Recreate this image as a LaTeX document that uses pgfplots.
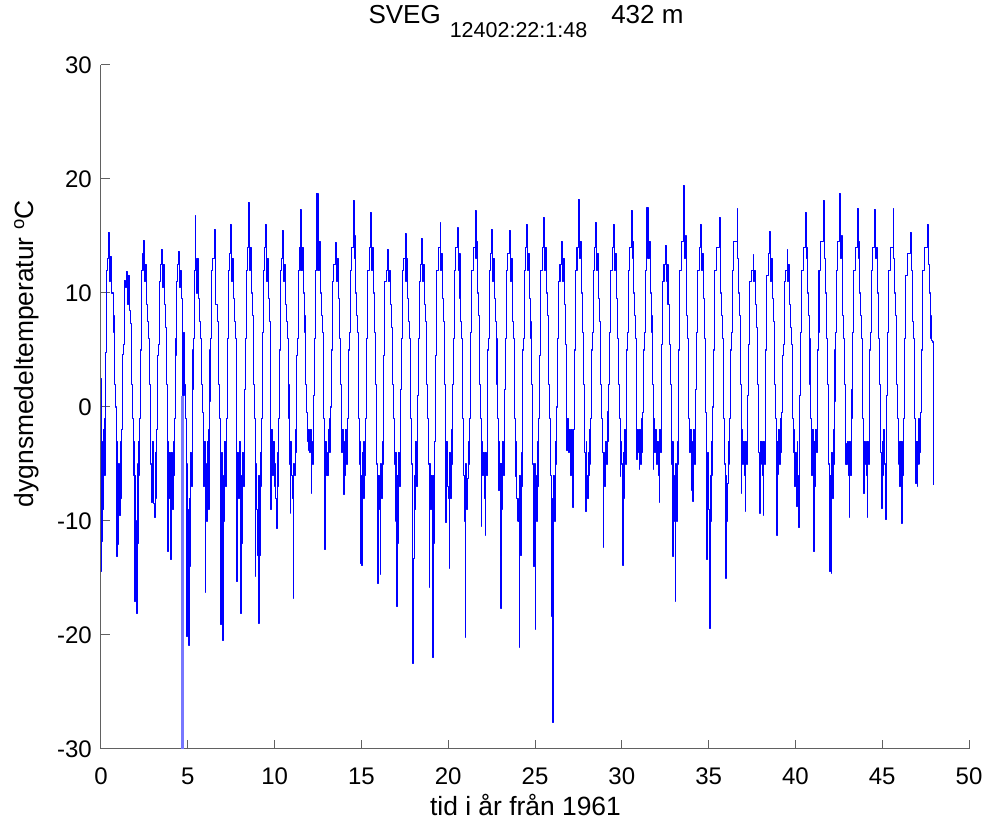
\documentclass[border=0pt]{standalone}
\usepackage{pgfplots}
\pgfplotsset{compat=1.18}
\usepackage{fontspec}
\setmainfont{Liberation Sans}
\definecolor{axgray}{gray}{0.38}
\definecolor{lightbar}{rgb}{0.47,0.47,1}
\begin{document}
\begin{tikzpicture}
\useasboundingbox (-101pt,-71pt) rectangle (886pt,749pt);
\begin{axis}[
  at={(0pt,0pt)}, anchor=south west,
  width=868pt, height=684pt, scale only axis,
  xmin=0, xmax=50, ymin=-30, ymax=30,
  axis x line*=bottom, axis y line*=left,
  axis line style={-, axgray, line width=1pt},
  xtick={0,5,...,50}, ytick={-30,-20,...,30},
  xticklabels={0,5,10,15,20,25,30,35,40,45,50},
  yticklabels={-30,-20,-10,0,10,20,30},
  tick align=inside, major tick length=8.7pt,
  tick style={axgray, line width=1pt},
  minor tick num=0,
  tick label style={font=\fontsize{24}{28}\selectfont, text=black},
  yticklabel style={anchor=east, inner sep=0pt, xshift=-9pt},
  xticklabel style={anchor=north, inner sep=0pt, yshift=-19pt},
  xlabel={tid i år från 1961},
  ylabel={dygnsmedeltemperatur \textsuperscript{o}C},
  label style={font=\fontsize{26.4}{30}\selectfont},
  xlabel style={at={(axis description cs:0.489,-0.0965)}, anchor=base, inner sep=0pt},
  ylabel style={at={(axis description cs:-0.0783,0.578)}, anchor=base, rotate=0, inner sep=0pt},
  title={SVEG\hspace{9pt}\raisebox{-14pt}{\fontsize{21.5}{24}\selectfont 12402:22:1:48}\hspace{24pt}432 m},
  title style={at={(axis description cs:0.308,1.0512)}, anchor=base west, inner sep=0pt, font=\fontsize{26}{30}\selectfont},
]
\addplot[lightbar, line width=3pt, forget plot] coordinates {(4.71,1) (4.71,-99)};
\addplot[blue, line width=1.05pt, line join=round, mark=none, const plot] coordinates {
(0.00,-14.4) (0.02,2.5) (0.04,-11.8) (0.07,-3) (0.10,-9) (0.14,-2) (0.19,-6) (0.23,-1) (0.26,1.5) (0.28,4.8) (0.31,5.8) (0.34,12) (0.40,13) (0.42,15.3) (0.50,11) (0.56,13.2) (0.63,10) (0.70,8) (0.75,6.5) (0.79,2) (0.83,0) (0.87,-5) (0.90,-13.1) (0.93,-3) (0.96,-8)
(1.00,-12.1) (1.03,-5) (1.07,-9.5) (1.11,-3) (1.15,-8) (1.20,-2) (1.24,0) (1.26,4.6) (1.30,5.5) (1.34,11.1) (1.40,10.5) (1.45,11.9) (1.50,9) (1.56,11.5) (1.63,8.5) (1.70,7.3) (1.75,6) (1.78,2) (1.82,-1) (1.86,-6) (1.90,-3) (1.93,-17.1) (1.96,-6)
(2.00,-10) (2.06,-18.1) (2.09,-5) (2.12,-12) (2.16,-3) (2.20,-6) (2.24,-1) (2.27,1.5) (2.29,5) (2.32,6) (2.36,12) (2.42,13.5) (2.47,14.6) (2.52,11) (2.58,12.5) (2.64,9) (2.70,7.5) (2.75,6) (2.79,2) (2.83,-0.5) (2.87,-5) (2.92,-8.4) (2.96,-3)
(3.00,-6) (3.05,-8.5) (3.10,-9.7) (3.13,-4) (3.17,-8) (3.21,-2) (3.25,0) (3.28,4.5) (3.31,5.5) (3.35,11) (3.42,12.5) (3.47,13.8) (3.52,10.5) (3.58,12.5) (3.64,9) (3.70,7) (3.75,6) (3.79,2) (3.84,-12.7) (3.87,-3) (3.91,-8) (3.96,-4)
(4.00,-8) (4.03,-13.4) (4.07,-4) (4.11,-9) (4.15,-3) (4.20,-6) (4.24,-1) (4.27,1.5) (4.29,4.5) (4.32,6) (4.36,11) (4.42,12.5) (4.46,13.6) (4.52,10.5) (4.58,12) (4.64,9.5) (4.67,1) (4.75,1) (4.78,6.5) (4.82,2) (4.86,-1) (4.90,-7) (4.94,-20.1) (4.97,-5)
(5.00,-9) (5.04,-16.6) (5.07,-20.9) (5.10,-8) (5.14,-14) (5.18,-4) (5.22,-7) (5.25,-1) (5.28,1.5) (5.30,5) (5.33,6) (5.37,12) (5.42,16.8) (5.47,13) (5.52,10) (5.58,13) (5.64,9.5) (5.70,7.5) (5.75,6) (5.79,2) (5.83,-0.5) (5.88,-5) (5.93,-7) (5.97,-3)
(6.00,-16.3) (6.04,-5) (6.08,-10) (6.12,-3) (6.17,-9) (6.22,-2) (6.26,0.5) (6.28,5) (6.31,6) (6.35,12) (6.42,13) (6.53,15.6) (6.57,12) (6.62,9) (6.70,7.5) (6.75,6) (6.79,2) (6.83,-1) (6.87,-6) (6.90,-19.1) (6.94,-7) (6.97,-4)
(7.01,-20.5) (7.04,-6) (7.08,-10) (7.12,-3) (7.17,-7) (7.22,-1) (7.26,1) (7.28,4.5) (7.31,6) (7.35,12) (7.42,13.5) (7.47,16.0) (7.52,11) (7.58,13) (7.64,9.5) (7.70,7.5) (7.75,6) (7.79,1.5) (7.82,-15.3) (7.86,-4) (7.91,-8) (7.96,-3)
(8.01,-11) (8.05,-18.1) (8.08,-6) (8.12,-12) (8.16,-4) (8.21,-7) (8.25,-1) (8.28,1.5) (8.30,5) (8.33,6) (8.37,12) (8.43,14) (8.49,17.9) (8.54,12) (8.60,14) (8.66,10) (8.72,8) (8.76,6) (8.80,2) (8.84,-1) (8.88,-14.9) (8.92,-5) (8.96,-9)
(9.01,-13) (9.07,-19.0) (9.10,-6) (9.14,-13) (9.18,-4) (9.22,-7) (9.26,-1) (9.28,1.5) (9.30,5) (9.33,6.5) (9.37,12) (9.42,14) (9.45,16.0) (9.52,11) (9.58,13) (9.64,9.5) (9.70,7.5) (9.75,6) (9.78,-9) (9.82,-2) (9.87,-6) (9.93,-3) (9.97,-7)
(10.02,-5) (10.07,-8) (10.12,-10.7) (10.15,-4) (10.19,-7) (10.23,-1) (10.27,1.5) (10.29,5) (10.32,6) (10.36,12) (10.42,13) (10.47,15.5) (10.52,11) (10.58,12.5) (10.64,9) (10.70,7.5) (10.75,6) (10.79,2) (10.83,-1) (10.87,-5) (10.90,-9.3) (10.94,-3) (10.97,-6)
(11.01,-8) (11.08,-16.8) (11.11,-5) (11.15,-6) (11.19,-2) (11.23,-4) (11.26,0.5) (11.28,4.5) (11.31,6) (11.35,12) (11.42,14) (11.47,17.3) (11.52,12) (11.58,14) (11.64,10) (11.70,8) (11.75,6.5) (11.79,2) (11.83,-0.5) (11.88,-3) (11.95,-3.8) (11.98,-2)
(12.02,-4) (12.06,-2) (12.10,-7.6) (12.14,-3) (12.18,-5) (12.22,-1) (12.26,1) (12.28,5) (12.31,6) (12.35,12) (12.40,14) (12.43,18.7) (12.50,12) (12.56,14.5) (12.63,10) (12.70,8) (12.75,6.5) (12.79,2) (12.83,-1) (12.87,-5) (12.90,-12.5) (12.94,-3) (12.97,-6)
(13.02,-4) (13.06,-6) (13.10,-2) (13.14,-4) (13.19,-1) (13.23,0) (13.26,2) (13.28,5) (13.31,6) (13.35,11) (13.42,12.5) (13.49,14.4) (13.54,11) (13.60,13) (13.66,9.5) (13.72,7.5) (13.76,6) (13.80,2) (13.84,-1) (13.88,-4) (13.92,-2) (13.97,-7.7)
(14.01,-3) (14.05,-6) (14.09,-2) (14.13,-5) (14.18,-1) (14.23,0.5) (14.26,2) (14.28,5) (14.31,6.5) (14.35,12) (14.42,14) (14.54,18.1) (14.58,13) (14.63,15) (14.68,10) (14.73,8) (14.77,6.5) (14.81,2) (14.85,-1) (14.89,-5) (14.93,-3) (14.97,-13.7)
(15.00,-6) (15.03,-13.9) (15.07,-4) (15.11,-8) (15.15,-3) (15.20,-6) (15.24,-1) (15.27,1.5) (15.29,5) (15.32,6) (15.36,12) (15.44,14) (15.54,17.1) (15.58,12) (15.63,14) (15.68,10) (15.73,8) (15.77,6.5) (15.81,2) (15.85,-1) (15.89,-5) (15.95,-15.5) (15.98,-6)
(16.02,-9) (16.08,-14.7) (16.11,-5) (16.15,-8) (16.19,-3) (16.23,-5) (16.26,0) (16.28,4.5) (16.31,5.5) (16.35,11) (16.42,12) (16.50,13.8) (16.55,11) (16.61,12) (16.67,9) (16.73,7) (16.77,5.5) (16.81,2) (16.85,-1) (16.89,-5) (16.94,-10) (16.97,-4)
(17.04,-17.5) (17.07,-6) (17.11,-12) (17.15,-4) (17.20,-7) (17.24,-1) (17.27,1.5) (17.29,5) (17.32,6) (17.36,12) (17.44,13) (17.52,15.2) (17.57,11) (17.62,13) (17.68,9.5) (17.73,7.5) (17.77,6) (17.81,2) (17.85,-1) (17.89,-5) (17.93,-8) (17.96,-22.5)
(18.00,-13.3) (18.04,-6) (18.08,-9) (18.12,-3) (18.17,-7) (18.21,-1) (18.25,1) (18.27,4.5) (18.30,6) (18.34,11) (18.40,12.5) (18.44,14.8) (18.50,11) (18.56,12.5) (18.62,9) (18.68,7.5) (18.73,6) (18.77,2) (18.81,-1) (18.85,-5) (18.90,-15.8) (18.94,-5) (18.97,-9)
(19.02,-6) (19.07,-14) (19.12,-22.0) (19.15,-6) (19.19,-12) (19.23,-3) (19.26,0) (19.28,4.5) (19.31,6) (19.35,12) (19.44,14) (19.54,16.2) (19.58,12) (19.63,13.5) (19.68,9.5) (19.73,7.5) (19.77,6) (19.81,2) (19.84,-1) (19.87,-10.1) (19.91,-3) (19.96,-7)
(20.02,-8) (20.06,-14.2) (20.09,-4) (20.13,-8) (20.17,-2) (20.21,-5) (20.25,0) (20.27,2) (20.29,5) (20.32,6) (20.36,12) (20.44,14) (20.54,15.7) (20.58,12) (20.63,13.5) (20.68,9.5) (20.73,7.5) (20.77,6) (20.81,2) (20.85,-1) (20.90,-6) (20.94,-10) (20.98,-20.2)
(21.02,-5) (21.06,-9) (21.11,-6.3) (21.15,-3) (21.19,-5) (21.23,-1) (21.26,1.5) (21.28,5) (21.31,6.5) (21.35,12) (21.44,14) (21.56,17.2) (21.60,13) (21.65,14.5) (21.70,10) (21.75,8) (21.79,6) (21.83,2) (21.86,-1) (21.90,-10.5) (21.94,-3) (21.97,-6)
(22.02,-4) (22.07,-8) (22.13,-11.3) (22.16,-4) (22.20,-6) (22.24,-1) (22.27,1.5) (22.29,5) (22.32,6) (22.36,12) (22.44,13.5) (22.52,15.6) (22.57,11) (22.62,13) (22.68,9.5) (22.73,7.5) (22.77,6) (22.81,2) (22.85,-1) (22.90,-7.3) (22.94,-3) (22.97,-5)
(23.04,-17.7) (23.07,-5) (23.11,-9) (23.15,-3) (23.19,-6) (23.23,-1) (23.26,1.5) (23.28,5) (23.31,6) (23.35,12) (23.44,13.5) (23.52,15.5) (23.57,11) (23.62,13) (23.68,9.5) (23.73,7.5) (23.77,6) (23.81,2) (23.84,-1) (23.86,-6.1) (23.91,-3) (23.96,-8)
(24.02,-10) (24.09,-21.1) (24.12,-6) (24.16,-13) (24.20,-4) (24.23,-7) (24.26,-1) (24.28,1.5) (24.30,5) (24.33,6) (24.37,12) (24.45,14) (24.53,16.0) (24.58,12) (24.63,13.5) (24.68,9.5) (24.73,7.5) (24.77,6) (24.81,2) (24.85,-1) (24.88,-5) (24.92,-14.0) (24.96,-5)
(25.01,-19.5) (25.04,-6) (25.08,-10) (25.12,-3) (25.17,-7) (25.21,-1) (25.25,1) (25.27,4.5) (25.30,6) (25.34,12) (25.42,14) (25.49,16.6) (25.55,12) (25.60,14) (25.66,10) (25.72,8) (25.76,6) (25.80,2) (25.84,-1) (25.88,-6) (25.94,-18.4) (25.97,-8)
(26.00,-12) (26.03,-27.7) (26.05,-15.9) (26.09,-6) (26.13,-10) (26.17,-3) (26.21,-5) (26.25,0) (26.27,2) (26.29,5) (26.32,6) (26.36,11) (26.44,12.5) (26.55,14.5) (26.60,11) (26.65,13) (26.70,9) (26.74,7) (26.78,5.5) (26.81,2) (26.84,-3.8) (26.88,-1) (26.93,-4) (26.97,-2)
(27.02,-4) (27.06,-6) (27.10,-2) (27.15,-5) (27.19,-8.8) (27.22,-2) (27.26,1) (27.28,5) (27.31,6.5) (27.35,12) (27.42,14) (27.51,18.2) (27.56,13) (27.61,14.5) (27.67,10) (27.72,8) (27.76,6.5) (27.80,2) (27.84,-1) (27.87,-4) (27.90,-9.2) (27.94,-3) (27.97,-6)
(28.02,-8) (28.06,-4) (28.10,-6) (28.14,-2) (28.18,-5) (28.22,-1) (28.26,1.5) (28.28,5) (28.31,6.5) (28.35,12) (28.42,14) (28.47,16.2) (28.53,12) (28.59,13.5) (28.65,9.5) (28.71,7.5) (28.75,6) (28.79,2) (28.83,-1) (28.87,-4) (28.92,-12.3) (28.96,-4)
(29.02,-7) (29.06,-3) (29.10,-5) (29.15,-0.4) (29.19,-3) (29.23,0) (29.26,2) (29.28,5) (29.31,6.5) (29.35,12) (29.44,14) (29.53,16.0) (29.58,12) (29.63,13.5) (29.68,9.5) (29.73,7.5) (29.77,6) (29.81,2) (29.85,-1) (29.90,-6.1) (29.94,-3) (29.97,-5)
(30.02,-6) (30.07,-13.9) (30.10,-4) (30.14,-8) (30.18,-2) (30.22,-5) (30.25,0) (30.27,2) (30.29,5) (30.32,6.5) (30.36,12) (30.45,14) (30.55,17.2) (30.59,13) (30.64,14.5) (30.69,10) (30.74,8) (30.78,6) (30.82,2) (30.85,-1) (30.87,-4.6) (30.92,-2) (30.96,-4)
(31.00,-5.5) (31.04,-2) (31.08,-5) (31.12,-1) (31.16,-4) (31.21,-0.5) (31.25,1.5) (31.27,5) (31.30,6.5) (31.34,12) (31.40,14.5) (31.45,17.5) (31.51,13) (31.57,14.5) (31.63,10) (31.69,8) (31.74,6.5) (31.78,2) (31.80,-5.5) (31.84,-1) (31.89,-4) (31.95,-2)
(32.02,-5) (32.06,-3) (32.10,-6) (32.16,-8.4) (32.19,-2) (32.23,-4) (32.26,0.5) (32.28,4.5) (32.31,5.5) (32.35,11) (32.43,12.5) (32.50,14.2) (32.55,11) (32.60,12.5) (32.66,9) (32.72,7) (32.76,5.5) (32.80,2) (32.84,-1) (32.88,-5) (32.91,-3) (32.95,-13.1)
(33.00,-6) (33.04,-10) (33.08,-17.1) (33.11,-5) (33.15,-10) (33.19,-3) (33.23,-5) (33.26,0.5) (33.28,5) (33.31,6.5) (33.35,12) (33.45,14.5) (33.56,19.4) (33.60,13) (33.65,15) (33.70,10) (33.75,8) (33.79,6) (33.83,2) (33.86,-1) (33.90,-4) (33.94,-2) (33.99,-7.3)
(34.03,-3) (34.06,-6) (34.10,-8.3) (34.14,-2) (34.18,-5) (34.23,-1) (34.26,1.5) (34.28,5) (34.31,6.5) (34.35,12) (34.45,14) (34.56,16.0) (34.60,12) (34.65,13.5) (34.70,9.5) (34.75,7.5) (34.79,6) (34.83,-0.5) (34.87,-13.4) (34.91,-4) (34.95,-8) (34.98,-4)
(35.02,-9) (35.06,-19.4) (35.09,-6) (35.13,-10) (35.17,-3) (35.21,-6) (35.25,0) (35.27,2) (35.29,5) (35.32,6.5) (35.36,12) (35.46,14) (35.62,16.6) (35.66,12) (35.71,10) (35.76,8) (35.80,6) (35.84,2) (35.87,-1) (35.91,-5) (35.97,-15.0)
(36.01,-6) (36.05,-10) (36.10,-6.7) (36.14,-3) (36.18,-5) (36.22,-1) (36.26,1.5) (36.28,5) (36.31,6.5) (36.35,12) (36.45,14.5) (36.64,17.4) (36.68,13) (36.72,10) (36.77,8) (36.81,6) (36.84,2) (36.87,-7.6) (36.91,-2) (36.95,-5)
(37.02,-3) (37.06,-6) (37.12,-9.2) (37.15,-3) (37.19,-5) (37.23,-1) (37.26,1) (37.28,4.5) (37.31,5.5) (37.35,11) (37.45,12) (37.56,13.4) (37.60,11) (37.65,12) (37.70,9) (37.75,7) (37.79,5.5) (37.83,2) (37.87,-1) (37.90,-4) (37.94,-9.3) (37.97,-3)
(38.02,-5) (38.07,-3) (38.10,-6) (38.14,-9.5) (38.18,-3) (38.22,-5) (38.25,0) (38.27,2) (38.29,5) (38.32,6.5) (38.36,11.5) (38.44,13.5) (38.50,15.4) (38.55,11) (38.61,13) (38.67,9.5) (38.73,7.5) (38.77,6) (38.81,2) (38.85,-1) (38.89,-4) (38.94,-11.3) (38.97,-3)
(39.00,-5.9) (39.04,-2) (39.08,-5) (39.12,-1) (39.17,-4) (39.22,-0.5) (39.26,1.5) (39.28,4.5) (39.31,5.5) (39.35,11) (39.44,12) (39.52,13.8) (39.57,11) (39.62,12.5) (39.68,9) (39.73,7) (39.77,5.5) (39.81,2) (39.85,-1) (39.89,-4) (39.94,-2) (39.97,-7)
(40.02,-4) (40.06,-8.7) (40.10,-3) (40.14,-6) (40.19,-10.6) (40.22,-2) (40.26,1) (40.28,5) (40.31,6.5) (40.35,12) (40.46,14) (40.58,17.1) (40.62,13) (40.67,14) (40.72,10) (40.76,8) (40.80,6) (40.84,2) (40.87,-1) (40.91,-4) (40.95,-6) (40.98,-2)
(41.02,-5) (41.06,-12.7) (41.09,-3) (41.13,-7) (41.17,-2) (41.21,-4) (41.25,0.5) (41.27,2) (41.29,5) (41.32,6.5) (41.36,12) (41.47,14.5) (41.63,18.1) (41.67,13) (41.72,10) (41.77,8) (41.81,6) (41.85,2) (41.88,-1) (41.92,-5) (41.98,-14.4)
(42.02,-6) (42.07,-14.6) (42.10,-4) (42.14,-8) (42.18,-2) (42.22,-5) (42.26,0.5) (42.28,5) (42.31,6.5) (42.35,12) (42.45,14.5) (42.54,18.7) (42.59,13) (42.64,15) (42.69,10) (42.74,8) (42.78,6) (42.82,2) (42.86,-1) (42.90,-5) (42.94,-3.2) (42.97,-5)
(43.02,-3) (43.06,-6) (43.11,-9.7) (43.14,-3) (43.18,-6) (43.22,-1) (43.26,1.5) (43.28,5) (43.31,6.5) (43.35,12) (43.45,14) (43.56,17.4) (43.61,13) (43.66,14.5) (43.71,10) (43.76,8) (43.80,6) (43.84,2) (43.87,-1) (43.91,-4) (43.94,-7.6) (43.97,-3)
(44.02,-5) (44.07,-3) (44.10,-6) (44.13,-9.7) (44.17,-3) (44.21,-5) (44.25,0) (44.27,2) (44.29,5) (44.32,6.5) (44.36,12) (44.46,14) (44.57,17.3) (44.62,13) (44.67,14) (44.72,10) (44.77,8) (44.81,6) (44.85,2) (44.88,-1) (44.92,-4) (44.96,-8.9)
(45.01,-3) (45.05,-6) (45.09,-2) (45.14,-5) (45.19,-9.9) (45.22,-2) (45.26,1) (45.28,5) (45.31,6.5) (45.35,12) (45.46,14) (45.63,17.4) (45.67,13) (45.72,10) (45.77,8) (45.81,6) (45.85,2) (45.88,-1) (45.92,-5) (45.96,-3)
(46.02,-7.0) (46.06,-3) (46.11,-10.2) (46.14,-3) (46.18,-6) (46.22,-1) (46.26,1.5) (46.28,5) (46.31,6) (46.35,11.5) (46.46,13.5) (46.63,15.3) (46.67,12) (46.72,9.5) (46.77,7.5) (46.81,6) (46.85,2) (46.88,-1) (46.92,-6.7) (46.96,-3)
(47.01,-7.0) (47.04,-3) (47.08,-5) (47.12,-1) (47.16,-4) (47.21,-0.5) (47.25,1.5) (47.27,5) (47.30,6.5) (47.34,12) (47.45,14) (47.63,16.0) (47.67,12.5) (47.72,10) (47.77,8) (47.81,6) (47.84,5.8) (47.90,5.7) (47.93,-1.5) (47.95,-6.8)
};
\end{axis}
\end{tikzpicture}
\end{document}
